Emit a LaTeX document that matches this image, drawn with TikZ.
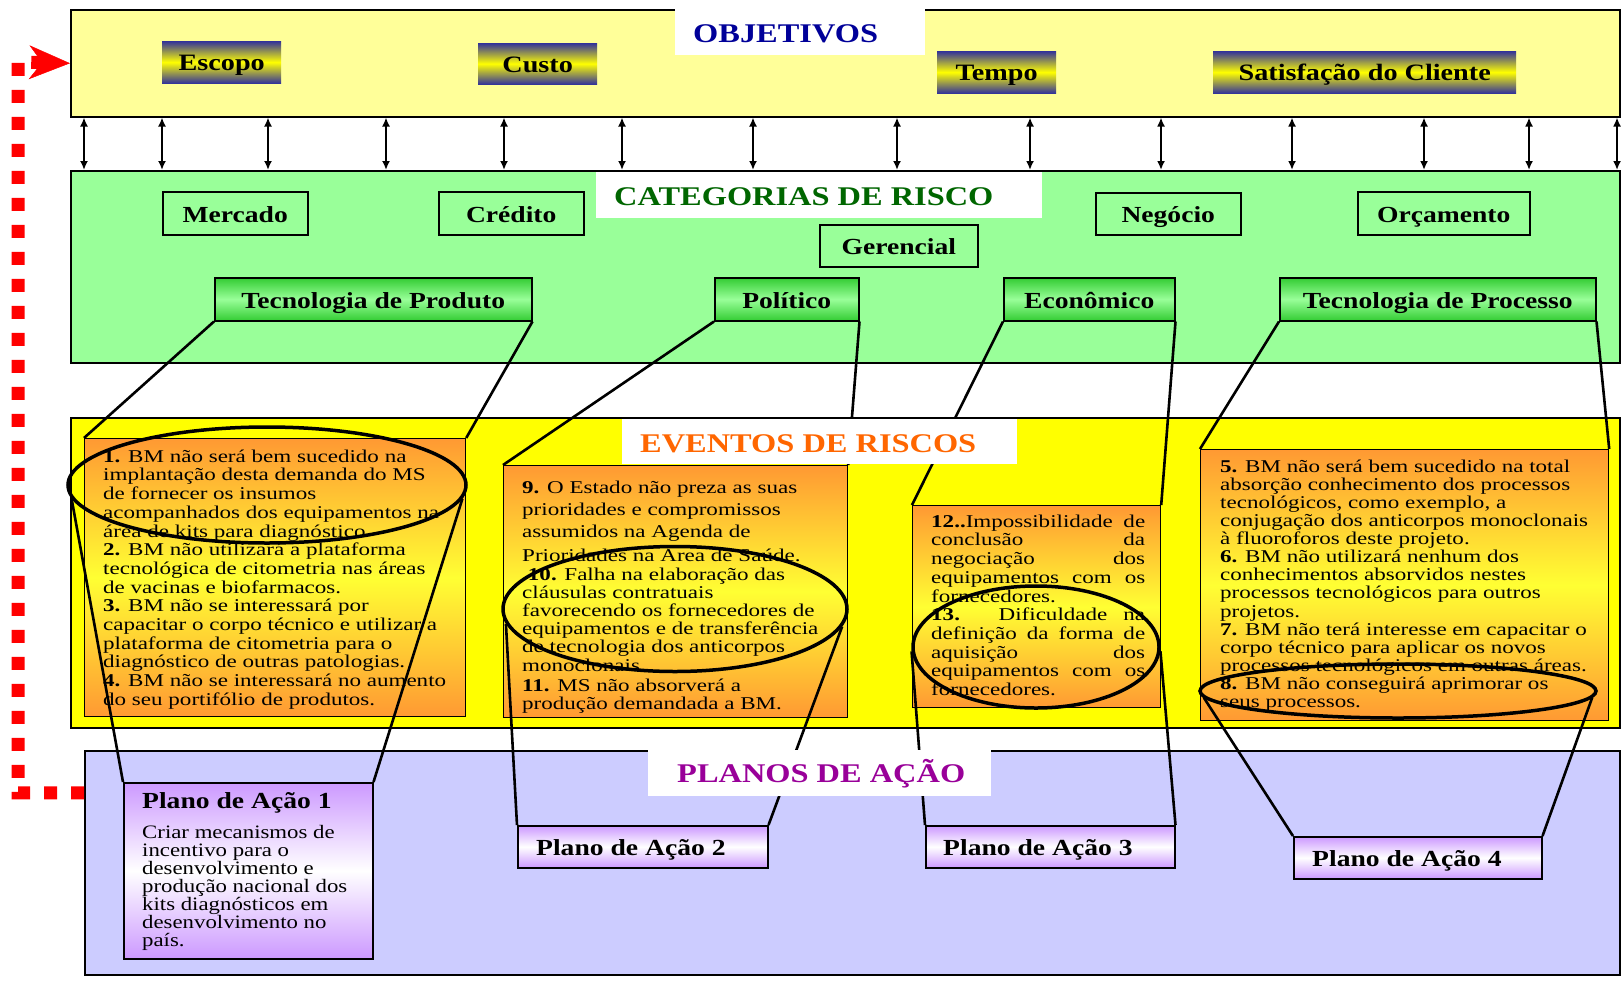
\documentclass[tikz,border=0pt]{standalone}
\usepackage{fontspec}
\setmainfont{Liberation Serif}[FakeStretch=1.2]
\newfontfamily\evfont{Liberation Serif}[FakeStretch=1.28]
\usetikzlibrary{arrows.meta, positioning, shapes.geometric}

\definecolor{goalbg}{HTML}{FFFF99}
\definecolor{catbg}{HTML}{99FF99}
\definecolor{riskbg}{HTML}{FFFF00}
\definecolor{planbg}{HTML}{CCCCFF}
\definecolor{navytext}{HTML}{000099}
\definecolor{greentext}{HTML}{006600}
\definecolor{orangetext}{HTML}{FF6600}
\definecolor{purpletext}{HTML}{990099}
\definecolor{goalblue}{HTML}{333399}
\definecolor{catgreen}{HTML}{33CC33}
\definecolor{evorange}{HTML}{FF9933}
\definecolor{evyellow}{HTML}{FFFF33}
\definecolor{planpurple}{HTML}{CC99FF}

\newcommand\jline[1]{\makebox[214pt][s]{#1}}
\newcommand\topstrut{\rule{0pt}{14pt}}

\begin{document}
\begin{tikzpicture}[x=1pt,y=-1pt,>={Latex[length=9pt,width=8pt]},
  band/.style={draw,line width=1.5pt,anchor=north west,inner sep=0},
  head/.style={fill=white,anchor=north west,inner sep=0},
  headtext/.style={anchor=base west,inner sep=0,font=\bfseries\fontsize{27}{30}\selectfont},
  goal/.style={top color=goalblue,bottom color=goalblue,middle color=yellow,anchor=north west,
    inner sep=0,text height=17pt,text depth=0pt,font=\bfseries\fontsize{23.5}{26}\selectfont},
  cat/.style={draw,line width=1.5pt,anchor=north west,inner sep=0,text height=18pt,text depth=0pt,
    font=\bfseries\fontsize{23}{25}\selectfont},
  catmain/.style={cat,top color=catgreen,bottom color=catgreen,middle color=catbg},
  event/.style={draw,line width=1.2pt,anchor=north west,inner sep=0,
    top color=evorange,bottom color=evorange,middle color=evyellow},
  evtext/.style={anchor=north west,inner sep=0,align=left,font=\evfont\fontsize{18}{18.7}\selectfont},
  ring/.style={draw,ellipse,line width=3.5pt,inner sep=0},
  funnel/.style={line width=2.6pt},
  plan/.style={draw,line width=1.5pt,anchor=north west,inner sep=0,
    top color=planpurple,bottom color=planpurple,middle color=white},
  plantitle/.style={anchor=base west,inner sep=0,font=\bfseries\fontsize{23}{25}\selectfont},
  link/.style={<->,line width=1.8pt},
  feedback/.style={red,line width=13pt,dash pattern=on 13pt off 14pt}]
  \useasboundingbox (0,0) rectangle (1621,980);

  % the four bands
  \node[band,fill=goalbg,minimum width=1549pt,minimum height=107pt] (goals) at (70,9) {};
  \node[band,fill=catbg,minimum width=1549pt,minimum height=192pt] (cats) at (70,170) {};
  \node[band,fill=riskbg,minimum width=1549pt,minimum height=310pt] (risks) at (70,417) {};
  \node[band,fill=planbg,minimum width=1535pt,minimum height=224pt] (plans) at (84,750) {};

  % objectives
  \node[goal,minimum width=119pt,minimum height=42pt] (escopo) at (162,41) {Escopo};
  \node[goal,minimum width=119pt,minimum height=41pt] (custo) at (478,43) {Custo\hspace{10pt}};
  \node[goal,minimum width=119pt,minimum height=42pt] (tempo) at (937,51) {Tempo};
  \node[goal,minimum width=303pt,minimum height=42pt] (cliente) at (1213,51) {Satisfação do Cliente};

  \foreach \x in {84,162,268,386,504,622,753,897,1030,1161,1292,1424,1529,1617}
    \draw[link] (goals.south -| \x,0) -- (cats.north -| \x,0);

  % risk categories
  \node[cat,minimum width=145pt,minimum height=43pt] (mercado) at (162,191) {Mercado};
  \node[cat,minimum width=145pt,minimum height=43pt] (credito) at (438,191) {Crédito};
  \node[cat,minimum width=158pt,minimum height=42pt] (gerencial) at (819,224) {Gerencial};
  \node[cat,minimum width=145pt,minimum height=42pt] (negocio) at (1095,192) {Negócio};
  \node[cat,minimum width=172pt,minimum height=43pt] (orcamento) at (1357,191) {Orçamento};
  \node[catmain,minimum width=317pt,minimum height=43pt] (tprod) at (214,277) {Tecnologia de Produto};
  \node[catmain,minimum width=144pt,minimum height=43pt] (politico) at (714,277) {Político};
  \node[catmain,minimum width=171pt,minimum height=43pt] (economico) at (1003,277) {Econômico};
  \node[catmain,minimum width=316pt,minimum height=43pt] (tproc) at (1279,277) {Tecnologia de Processo};

  % risk events
  \node[event,minimum width=381pt,minimum height=278pt] (ev1) at (84,438) {};
  \node[event,minimum width=344pt,minimum height=252pt] (ev2) at (503,465) {};
  \node[event,minimum width=248pt,minimum height=202pt] (ev3) at (912,505) {};
  \node[event,minimum width=408pt,minimum height=271pt] (ev4) at (1200,449) {};

  \node[evtext] (ev1text) at (103,448) {\topstrut\textbf{1.} BM não será bem sucedido na\\
    implantação desta demanda do MS\\de fornecer os insumos\\
    acompanhados dos equipamentos na\\área de kits para diagnóstico\\
    \textbf{2.} BM não utilizará a plataforma\\tecnológica de citometria nas áreas\\
    de vacinas e biofarmacos.\\\textbf{3.} BM não se interessará por\\
    capacitar o corpo técnico e utilizar a\\plataforma de citometria para o\\
    diagnóstico de outras patologias.\\\textbf{4.} BM não se interessará no aumento\\
    do seu portifólio de produtos.};
  \node[evtext,font=\evfont\fontsize{18}{18.2}\selectfont] (ev2text) at (522,479)
    {\topstrut\textbf{9.} O Estado não preza as suas\\[4pt]
    prioridades e compromissos\\[4pt]assumidos na Agenda de\\[4pt]
    Prioridades na Área de Saúde.\\
    \ \textbf{10.} Falha na elaboração das\\cláusulas contratuais\\
    favorecendo os fornecedores de\\equipamentos e de transferência\\
    de tecnologia dos anticorpos\\monoclonais\\[1.8pt]
    \textbf{11.} MS não absorverá a\\produção demandada a BM.};
  \node[evtext] (ev3text) at (931,513) {\topstrut\jline{\textbf{12..}Impossibilidade de}\\
    \jline{conclusão da}\\\jline{negociação dos}\\\jline{equipamentos com os}\\
    fornecedores.\\\jline{\textbf{13.} Dificuldade na}\\\jline{definição da forma de}\\
    \jline{aquisição dos}\\\jline{equipamentos com os}\\fornecedores.};
  \node[evtext,font=\evfont\fontsize{18}{18.1}\selectfont] (ev4text) at (1220,458)
    {\topstrut\textbf{5.} BM não será bem sucedido na total\\
    absorção conhecimento dos processos\\tecnológicos, como exemplo, a\\
    conjugação dos anticorpos monoclonais\\à fluoroforos deste projeto.\\
    \textbf{6.} BM não utilizará nenhum dos\\conhecimentos absorvidos nestes\\
    processos tecnológicos para outros\\projetos.\\
    \textbf{7.} BM não terá interesse em capacitar o\\corpo técnico para aplicar os novos\\
    processos tecnológicos em outras áreas.\\\textbf{8.} BM não conseguirá aprimorar os\\
    seus processos.};

  \draw[funnel] (tprod.south west) -- (ev1.north west);
  \draw[funnel] (tprod.south east) -- (ev1.north east);
  \draw[funnel] (politico.south west) -- (ev2.north west);
  \draw[funnel] (politico.south east) -- (ev2.north east);
  \draw[funnel] (economico.south west) -- (ev3.north west);
  \draw[funnel] (economico.south east) -- (ev3.north east);
  \draw[funnel] (tproc.south west) -- (ev4.north west);
  \draw[funnel] (tproc.south east) -- (ev4.north east);

  \node[ring,minimum width=398pt,minimum height=116pt] (e1) at (267,485) {};
  \node[ring,minimum width=344pt,minimum height=125pt] (e2) at (675,609) {};
  \node[ring,minimum width=246pt,minimum height=122pt] (e3) at (1036,647) {};
  \node[ring,minimum width=396pt,minimum height=54pt] (e4) at (1398,691) {};

  % action plans
  \node[plan,minimum width=249pt,minimum height=176pt] (plan1) at (123,782) {};
  \node[plan,minimum width=250pt,minimum height=42pt] (plan2) at (517,825) {};
  \node[plan,minimum width=249pt,minimum height=42pt] (plan3) at (925,825) {};
  \node[plan,minimum width=248pt,minimum height=42pt] (plan4) at (1293,836) {};
  \node[plantitle] (p1title) at (142,808) {Plano de Ação 1};
  \node[anchor=north west,inner sep=0,align=left,font=\fontsize{19}{18.1}\selectfont] (p1text) at (142,824)
    {\topstrut Criar mecanismos de\\incentivo para o\\desenvolvimento e\\produção nacional dos\\
     kits diagnósticos em\\desenvolvimento no\\país.};
  \node[plantitle] (p2title) at (536,855) {Plano de Ação 2};
  \node[plantitle] (p3title) at (943,855) {Plano de Ação 3};
  \node[plantitle] (p4title) at (1312,866) {Plano de Ação 4};

  \draw[funnel] (e1.184) -- (plan1.north west);
  \draw[funnel] (e1.-4) -- (plan1.north east);
  \draw[funnel] (e2.185) -- (plan2.north west);
  \draw[funnel] (e2.-6) -- (plan2.north east);
  \draw[funnel] (e3.182) -- (plan3.north west);
  \draw[funnel] (e3.-2) -- (plan3.north east);
  \draw[funnel] (e4.182) -- (plan4.north west);
  \draw[funnel] (e4.-2) -- (plan4.north east);

  % back to the objectives
  \coordinate (back) at (18,62);
  \draw[feedback,-{Stealth[length=41pt,width=34pt,inset=13pt,line width=0.5pt]}]
    ([yshift=70pt]plans.west) -| (back) -- (goals.west);

  % band titles
  \node[head,minimum width=250pt,minimum height=46pt] (objhead) at (675,9) {};
  \node[headtext,navytext] (objtitle) at (693,42) {OBJETIVOS};
  \node[head,minimum width=446pt,minimum height=46pt] (cathead) at (596,172) {};
  \node[headtext,greentext] (cattitle) at (614,205) {CATEGORIAS DE RISCO};
  \node[head,minimum width=395pt,minimum height=45pt] (riskhead) at (622,419) {};
  \node[headtext,orangetext] (risktitle) at (640,452) {EVENTOS DE RISCOS};
  \node[head,minimum width=343pt,minimum height=46pt] (planhead) at (648,750) {};
  \node[headtext,purpletext] (plantitle) at (677,782) {PLANOS DE AÇÃO};
\end{tikzpicture}
\end{document}
